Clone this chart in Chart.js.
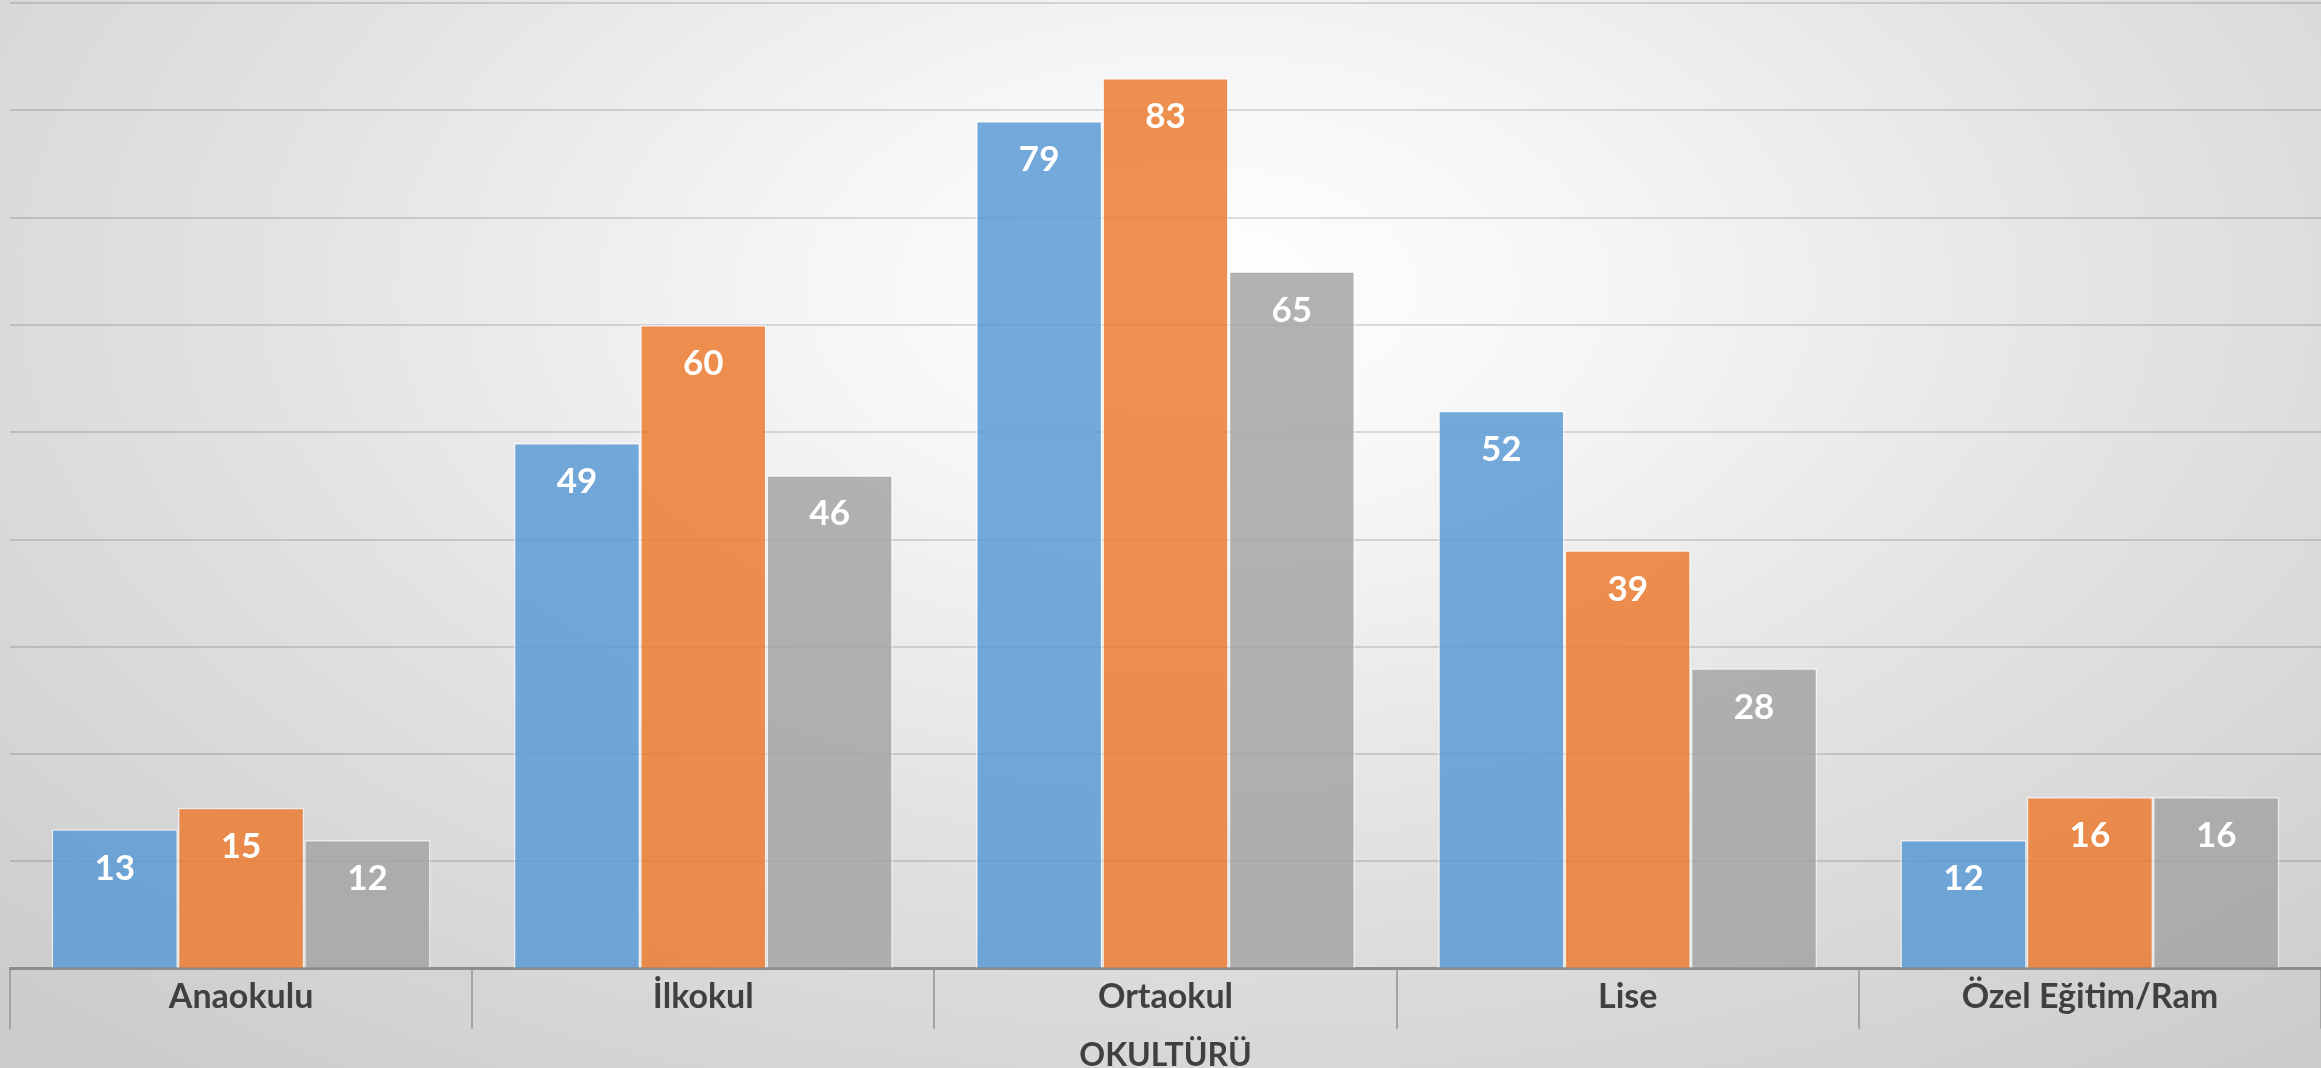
<!DOCTYPE html>
<html>
<head>
<meta charset="utf-8">
<script src="https://cdn.jsdelivr.net/npm/chart.js"></script>
<style>
  html, body { margin: 0; padding: 0; }
  #wrap {
    width: 2321px; height: 1068px; position: relative;
    background: radial-gradient(ellipse 75% 95% at 52% 27%, #ffffff 0%, #f6f6f6 22%, #e2e2e2 55%, #cbcbcb 100%);
  }
</style>
</head>
<body>
<div id="wrap"><canvas id="myChart"></canvas></div>
<script>
const categories = ['Anaokulu', 'İlkokul', 'Ortaokul', 'Lise', 'Özel Eğitim/Ram'];
const seriesA = [13, 49, 79, 52, 12];
const seriesB = [15, 60, 83, 39, 16];
const seriesC = [12, 46, 65, 28, 16];
const axisTitle = 'OKULTÜRÜ';

// white value labels just inside the top of each bar
const valueLabels = {
  id: 'valueLabels',
  afterDatasetsDraw(chart) {
    const ctx = chart.ctx;
    ctx.save();
    ctx.fillStyle = '#ffffff';
    ctx.font = 'bold 35px Lato';
    ctx.textAlign = 'center';
    ctx.textBaseline = 'middle';
    chart.data.datasets.forEach((ds, i) => {
      chart.getDatasetMeta(i).data.forEach((bar, j) => {
        ctx.fillText(ds.data[j], bar.x, bar.y + 39);
      });
    });
    ctx.restore();
  }
};

const ctx = document.querySelector('#myChart');
new Chart(ctx, {
  type: 'bar',
  data: {
    labels: categories,
    datasets: [
      { label: 'A', data: seriesA, backgroundColor: 'rgba(91,155,213,0.85)' },
      { label: 'B', data: seriesB, backgroundColor: 'rgba(237,125,49,0.85)' },
      { label: 'C', data: seriesC, backgroundColor: 'rgba(165,165,165,0.85)' }
    ]
  },
  options: {
    responsive: true,
    maintainAspectRatio: false,
    animation: false,
    layout: { padding: { left: 10, right: 0, top: 3, bottom: 0 } },
    datasets: {
      bar: {
        categoryPercentage: 0.82,
        barPercentage: 1.0,
        borderWidth: 1.5,
        borderColor: 'rgba(255,255,255,0.55)'
      }
    },
    plugins: {
      legend: { display: false },
      tooltip: { enabled: false }
    },
    scales: {
      x: {
        grid: {
          display: true,
          offset: true,
          drawOnChartArea: false,
          drawTicks: true,
          tickLength: 60,
          color: '#a3a3a3',
          lineWidth: 2
        },
        border: { display: true, color: '#8c8c8c', width: 3 },
        ticks: {
          color: '#404040',
          font: { family: 'Lato', size: 34, weight: 'bold' },
          padding: -52
        },
        title: {
          display: true,
          text: axisTitle,
          color: '#404040',
          font: { family: 'Lato', size: 32, weight: 'bold' },
          padding: { top: 71, bottom: -7 }
        }
      },
      y: {
        min: 0,
        max: 90,
        ticks: { display: false, stepSize: 10 },
        grid: { color: 'rgba(0,0,0,0.13)', lineWidth: 2, drawTicks: false },
        border: { display: false }
      }
    }
  },
  plugins: [valueLabels]
});
</script>
</body>
</html>
